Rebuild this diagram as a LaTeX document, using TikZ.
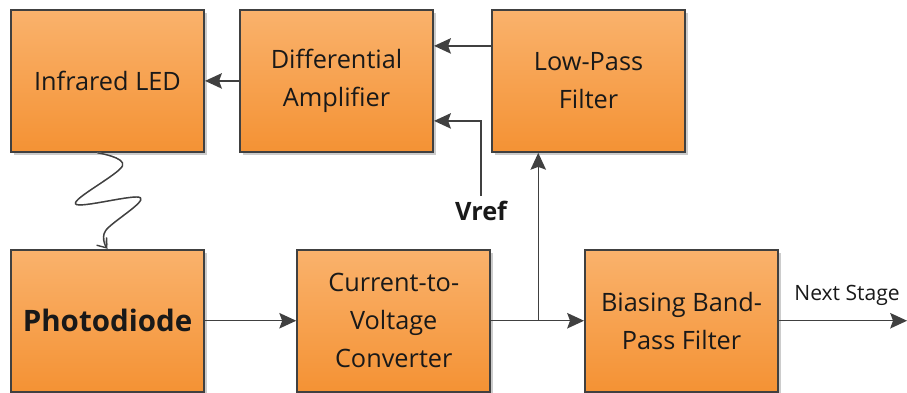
\documentclass[tikz,border=0pt]{standalone}
\usepackage{fontspec}
\setmainfont{Open Sans}
\usepackage{xcolor}
\definecolor{BoxTop}{RGB}{250,178,108}
\definecolor{BoxBottom}{RGB}{244,146,52}
\definecolor{EdgeGray}{RGB}{64,64,64}
\definecolor{InkBlack}{RGB}{25,25,25}
\usetikzlibrary{arrows.meta,positioning,shadows,calc}

\begin{document}
\begin{tikzpicture}[
  node distance=0.85cm,
  block/.style={rectangle, draw=EdgeGray, line width=1.3pt,
                top color=BoxTop, bottom color=BoxBottom,
                minimum width=4.83cm, minimum height=3.55cm, align=center,
                font=\fontsize{18}{27}\selectfont, text=InkBlack,
                drop shadow={shadow xshift=2pt, shadow yshift=-2pt,
                             fill=black!40, opacity=0.5}},
  arr/.style={-{Stealth[length=12pt,width=11pt,inset=2pt]}, line width=1.05pt, color=EdgeGray},
  sig/.style={font=\bfseries\fontsize{18}{22}\selectfont, text=InkBlack},
  note/.style={font=\fontsize{15}{18}\selectfont, text=InkBlack},
  wave/.style={line width=1pt, color=EdgeGray,
               -{Straight Barb[length=6pt,width=9pt]}}
]
  % top row
  \node[block] (led) {Infrared LED};
  \node[block, right=0.85cm of led] (diff) {Differential\\Amplifier};
  \node[block, right=1.425cm of diff] (lpf) {Low-Pass\\Filter};
  % bottom row
  \node[block, below=2.4cm of led, font=\bfseries\fontsize{21}{27}\selectfont] (pd) {Photodiode};
  \node[block, right=2.28cm of pd] (ctv) {Current-to-\\Voltage\\Converter};
  \node[block, right=2.32cm of ctv] (bpf) {Biasing Band-\\Pass Filter};

  \useasboundingbox ($(led.north west)+(-0.25,0.225)$) rectangle ++(22.675,-9.825);

  \node[sig] (vref) at ($(diff.east)+(1.175,-3.25)$) {Vref};
  \coordinate (split) at ($(ctv.east)+(1.175,0)$);
  \coordinate (out) at ($(bpf.east)+(3.2,0)$);

  \draw[arr] (diff) -- (led);
  \draw[arr] ([yshift=0.875cm]lpf.west) -- ([yshift=0.875cm]diff.east);
  \draw[arr] (vref.north) |- ([yshift=-1cm]diff.east);
  \draw[arr] (pd) -- (ctv);
  \draw[arr] (ctv) -- (bpf);
  \draw[arr] (split) -- (split |- lpf.south);
  \draw[arr] (bpf) -- (out) node[note, midway, above=0.25cm, xshift=0.1cm] (nxt) {Next Stage};

  % light path LED -> photodiode
  \draw[line width=1pt, color=black!25, shift={(0.05,-0.05)}]
    plot[smooth, tension=0.6] coordinates {($(led.south)+(-0.25,0)$) ($(led.south)+(0.375,-0.325)$)
      ($(led.south)+(-0.8,-1.275)$) ($(led.south)+(0.825,-1.125)$)
      ($(led.south)+(-0.05,-1.95)$) ($(led.south)+(0.01,-2.3)$)};
  \draw[wave]
    plot[smooth, tension=0.6] coordinates {($(led.south)+(-0.25,0)$) ($(led.south)+(0.375,-0.325)$)
      ($(led.south)+(-0.8,-1.275)$) ($(led.south)+(0.825,-1.125)$)
      ($(led.south)+(-0.05,-1.95)$) (pd.north)};
\end{tikzpicture}
\end{document}
